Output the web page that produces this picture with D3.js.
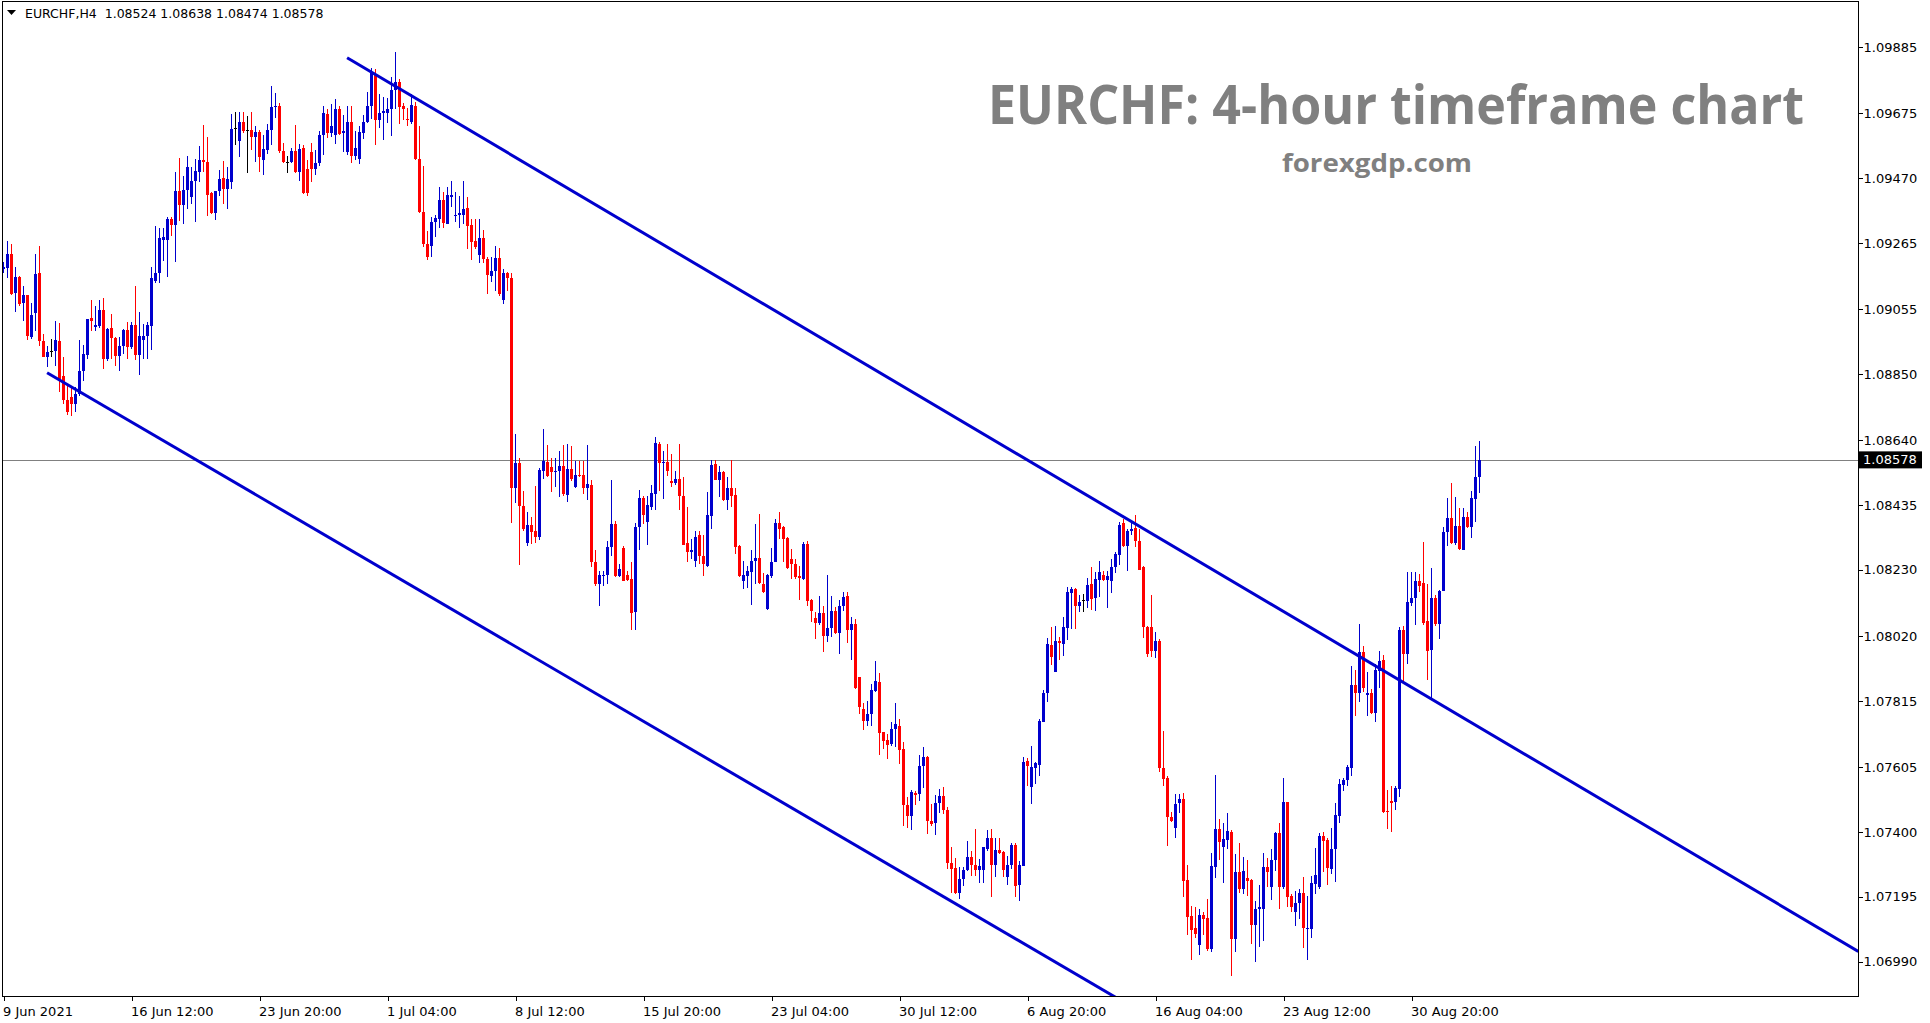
<!DOCTYPE html>
<html><head><meta charset="utf-8">
<script src="https://cdn.jsdelivr.net/npm/d3@7"></script>
<style>html,body{margin:0;padding:0;background:#fff;} svg{display:block}</style>
</head><body>
<svg id="chart" width="1930" height="1023"></svg>
<script>
const symbolInfo = "EURCHF,H4";
const lastOHLC = [1.08524, 1.08638, 1.08474, 1.08578];
const currentPrice = 1.08578;

const opens = [
1.09181,1.09184,1.09230,1.09105,1.09158,1.09074,1.09099,1.08966,1.09042,1.09170,
1.08955,1.08905,1.08924,1.08922,1.08955,1.08842,1.08768,1.08778,1.08755,1.08785,
1.08858,1.08911,1.09026,1.09000,1.09003,1.09054,1.08896,1.08996,1.08964,1.08908,
1.08937,1.08989,1.08934,1.09006,1.08911,1.08959,1.08969,1.09003,1.09145,1.09170,
1.09275,1.09275,1.09342,1.09322,1.09430,1.09386,1.09433,1.09411,1.09462,1.09488,
1.09528,1.09522,1.09422,1.09360,1.09428,1.09469,1.09435,1.09459,1.09629,1.09588,
1.09649,1.09621,1.09621,1.09601,1.09617,1.09528,1.09560,1.09621,1.09694,1.09699,
1.09557,1.09521,1.09520,1.09557,1.09490,1.09566,1.09499,1.09554,1.09499,1.09517,
1.09605,1.09672,1.09614,1.09608,1.09689,1.09612,1.09554,1.09647,1.09539,1.09529,
1.09614,1.09648,1.09699,1.09798,1.09653,1.09675,1.09677,1.09689,1.09748,1.09774,
1.09697,1.09658,1.09648,1.09699,1.09532,1.09362,1.09260,1.09255,1.09330,1.09342,
1.09401,1.09324,1.09411,1.09350,1.09354,1.09354,1.09376,1.09322,1.09271,1.09227,
1.09281,1.09215,1.09161,1.09175,1.09218,1.09084,1.09171,1.09153,1.08488,1.08567,
1.08431,1.08315,1.08373,1.08352,1.08333,1.08543,1.08571,1.08555,1.08539,1.08543,
1.08558,1.08466,1.08549,1.08491,1.08531,1.08531,1.08488,1.08500,1.08256,1.08184,
1.08210,1.08212,1.08302,1.08374,1.08210,1.08298,1.08215,1.08201,1.08096,1.08365,
1.08457,1.08381,1.08430,1.08470,1.08629,1.08568,1.08570,1.08510,1.08504,1.08516,
1.08463,1.08315,1.08285,1.08259,1.08339,1.08275,1.08243,1.08399,1.08566,1.08515,
1.08539,1.08452,1.08490,1.08468,1.08304,1.08194,1.08209,1.08223,1.08259,1.08268,
1.08186,1.08107,1.08210,1.08256,1.08379,1.08365,1.08331,1.08263,1.08247,1.08210,
1.08201,1.08312,1.08133,1.08077,1.08062,1.08094,1.08020,1.08046,1.08098,1.08030,
1.08116,1.08146,1.08038,1.08059,1.07890,1.07788,1.07752,1.07772,1.07846,1.07875,
1.07716,1.07691,1.07677,1.07726,1.07737,1.07663,1.07484,1.07452,1.07524,1.07519,
1.07610,1.07636,1.07436,1.07428,1.07492,1.07513,1.07471,1.07301,1.07285,1.07206,
1.07251,1.07280,1.07322,1.07297,1.07280,1.07280,1.07346,1.07382,1.07294,1.07344,
1.07336,1.07257,1.07294,1.07359,1.07231,1.07291,1.07626,1.07542,1.07602,1.07613,
1.07749,1.07839,1.07993,1.07906,1.08006,1.07995,1.08046,1.08156,1.08169,1.08114,
1.08133,1.08130,1.08185,1.08140,1.08199,1.08212,1.08198,1.08196,1.08238,1.08278,
1.08377,1.08304,1.08354,1.08362,1.08322,1.08238,1.08050,1.08048,1.07974,1.08006,
1.07602,1.07570,1.07448,1.07414,1.07491,1.07505,1.07247,1.07133,1.07095,1.07041,
1.07137,1.07129,1.07030,1.07289,1.07408,1.07352,1.07374,1.07399,1.07061,1.07272,
1.07219,1.07253,1.07249,1.07106,1.07155,1.07155,1.07289,1.07227,1.07312,1.07396,
1.07225,1.07496,1.07198,1.07148,1.07174,1.07208,1.07094,1.07094,1.07235,1.07227,
1.07387,1.07374,1.07284,1.07346,1.07451,1.07549,1.07563,1.07603,1.07864,1.07841,
1.07969,1.07834,1.07839,1.07777,1.07911,1.07945,1.07468,1.07498,1.07495,1.07536,
1.08041,1.07962,1.08126,1.08141,1.08196,1.08189,1.08068,1.07976,1.08141,1.08058,
1.08162,1.08349,1.08394,1.08315,1.08369,1.08293,1.08397,1.08366,1.08453,1.08524
];
const highs = [
1.09203,1.09272,1.09261,1.09188,1.09161,1.09128,1.09101,1.09074,1.09230,1.09256,
1.08975,1.08939,1.08961,1.09019,1.09012,1.08903,1.08813,1.08813,1.08808,1.08959,
1.08943,1.09024,1.09084,1.09066,1.09084,1.09089,1.08996,1.09040,1.08968,1.08966,
1.08992,1.09016,1.09014,1.09127,1.09047,1.09008,1.09014,1.09188,1.09317,1.09311,
1.09311,1.09346,1.09346,1.09490,1.09533,1.09478,1.09541,1.09504,1.09530,1.09573,
1.09639,1.09601,1.09425,1.09430,1.09497,1.09525,1.09504,1.09673,1.09678,1.09680,
1.09678,1.09667,1.09678,1.09636,1.09622,1.09605,1.09641,1.09763,1.09738,1.09707,
1.09580,1.09541,1.09565,1.09639,1.09578,1.09576,1.09526,1.09581,1.09560,1.09620,
1.09699,1.09689,1.09705,1.09721,1.09697,1.09669,1.09699,1.09697,1.09620,1.09636,
1.09669,1.09741,1.09817,1.09814,1.09735,1.09727,1.09723,1.09790,1.09869,1.09784,
1.09709,1.09693,1.09735,1.09711,1.09636,1.09508,1.09303,1.09348,1.09354,1.09441,
1.09427,1.09441,1.09460,1.09427,1.09414,1.09460,1.09409,1.09342,1.09342,1.09342,
1.09306,1.09221,1.09221,1.09254,1.09250,1.09182,1.09172,1.09171,1.08661,1.08585,
1.08478,1.08412,1.08398,1.08494,1.08553,1.08677,1.08624,1.08585,1.08583,1.08607,
1.08624,1.08627,1.08622,1.08575,1.08575,1.08573,1.08624,1.08515,1.08293,1.08227,
1.08226,1.08320,1.08513,1.08386,1.08247,1.08304,1.08227,1.08256,1.08378,1.08483,
1.08465,1.08465,1.08497,1.08650,1.08636,1.08606,1.08629,1.08595,1.08544,1.08627,
1.08525,1.08430,1.08329,1.08354,1.08354,1.08339,1.08476,1.08576,1.08576,1.08560,
1.08544,1.08523,1.08576,1.08488,1.08307,1.08259,1.08243,1.08293,1.08376,1.08407,
1.08220,1.08218,1.08299,1.08391,1.08413,1.08368,1.08335,1.08296,1.08265,1.08243,
1.08318,1.08320,1.08138,1.08096,1.08146,1.08116,1.08214,1.08146,1.08112,1.08133,
1.08161,1.08161,1.08079,1.08073,1.07890,1.07808,1.07814,1.07870,1.07940,1.07903,
1.07716,1.07711,1.07749,1.07808,1.07758,1.07684,1.07511,1.07534,1.07529,1.07645,
1.07668,1.07640,1.07489,1.07518,1.07537,1.07542,1.07478,1.07354,1.07318,1.07289,
1.07289,1.07373,1.07341,1.07408,1.07315,1.07352,1.07406,1.07410,1.07382,1.07382,
1.07339,1.07325,1.07365,1.07365,1.07309,1.07636,1.07634,1.07673,1.07621,1.07758,
1.07850,1.08015,1.08048,1.08053,1.08016,1.08082,1.08177,1.08177,1.08172,1.08151,
1.08154,1.08204,1.08240,1.08222,1.08259,1.08225,1.08227,1.08265,1.08286,1.08380,
1.08391,1.08359,1.08377,1.08405,1.08359,1.08243,1.08052,1.08151,1.08034,1.08011,
1.07721,1.07576,1.07462,1.07521,1.07521,1.07524,1.07295,1.07167,1.07163,1.07157,
1.07146,1.07188,1.07332,1.07580,1.07440,1.07427,1.07459,1.07405,1.07329,1.07365,
1.07321,1.07312,1.07251,1.07181,1.07233,1.07335,1.07318,1.07346,1.07399,1.07427,
1.07572,1.07496,1.07204,1.07212,1.07221,1.07258,1.07198,1.07261,1.07349,1.07396,
1.07400,1.07380,1.07413,1.07493,1.07568,1.07572,1.07612,1.07925,1.07914,1.08057,
1.07990,1.07905,1.07852,1.07932,1.07973,1.07960,1.07532,1.07547,1.07547,1.08049,
1.08052,1.08224,1.08222,1.08222,1.08218,1.08318,1.08185,1.08236,1.08149,1.08165,
1.08366,1.08458,1.08504,1.08461,1.08425,1.08425,1.08414,1.08479,1.08621,1.08638
];
const lows = [
1.09170,1.09154,1.09101,1.09047,1.09066,1.09018,1.08959,1.08961,1.08987,1.08939,
1.08903,1.08872,1.08903,1.08876,1.08792,1.08755,1.08721,1.08718,1.08729,1.08781,
1.08829,1.08896,1.08985,1.08987,1.08996,1.08866,1.08891,1.08898,1.08876,1.08858,
1.08913,1.08896,1.08929,1.08894,1.08848,1.08896,1.08896,1.08926,1.09137,1.09137,
1.09209,1.09158,1.09286,1.09203,1.09335,1.09325,1.09372,1.09388,1.09330,1.09457,
1.09488,1.09351,1.09356,1.09338,1.09414,1.09388,1.09372,1.09435,1.09576,1.09538,
1.09612,1.09485,1.09559,1.09520,1.09490,1.09481,1.09547,1.09576,1.09661,1.09548,
1.09517,1.09485,1.09517,1.09485,1.09460,1.09421,1.09414,1.09457,1.09481,1.09508,
1.09544,1.09596,1.09600,1.09578,1.09605,1.09554,1.09542,1.09517,1.09527,1.09515,
1.09594,1.09644,1.09657,1.09576,1.09627,1.09590,1.09644,1.09602,1.09689,1.09641,
1.09653,1.09636,1.09641,1.09527,1.09360,1.09251,1.09212,1.09221,1.09285,1.09312,
1.09312,1.09324,1.09377,1.09330,1.09312,1.09324,1.09245,1.09212,1.09245,1.09200,
1.09200,1.09104,1.09140,1.09112,1.09096,1.09073,1.09111,1.08377,1.08443,1.08246,
1.08352,1.08305,1.08313,1.08316,1.08325,1.08518,1.08524,1.08476,1.08491,1.08460,
1.08464,1.08446,1.08510,1.08488,1.08524,1.08471,1.08452,1.08240,1.08180,1.08116,
1.08180,1.08184,1.08275,1.08207,1.08207,1.08193,1.08194,1.08041,1.08041,1.08293,
1.08376,1.08307,1.08418,1.08418,1.08478,1.08453,1.08527,1.08493,1.08497,1.08418,
1.08307,1.08254,1.08265,1.08238,1.08249,1.08210,1.08238,1.08358,1.08513,1.08460,
1.08449,1.08418,1.08428,1.08281,1.08207,1.08168,1.08172,1.08117,1.08186,1.08186,
1.08157,1.08103,1.08205,1.08254,1.08329,1.08256,1.08233,1.08201,1.08201,1.08133,
1.08198,1.08114,1.08065,1.08012,1.08056,1.07970,1.08003,1.08017,1.08027,1.07962,
1.08101,1.07999,1.07946,1.07853,1.07775,1.07724,1.07734,1.07737,1.07843,1.07643,
1.07662,1.07630,1.07673,1.07670,1.07614,1.07418,1.07414,1.07406,1.07484,1.07499,
1.07539,1.07394,1.07420,1.07391,1.07460,1.07457,1.07283,1.07206,1.07204,1.07187,
1.07228,1.07278,1.07261,1.07261,1.07240,1.07240,1.07339,1.07195,1.07257,1.07330,
1.07257,1.07231,1.07283,1.07193,1.07183,1.07291,1.07547,1.07489,1.07552,1.07576,
1.07749,1.07813,1.07930,1.07906,1.07946,1.07956,1.08009,1.08043,1.08043,1.08095,
1.08096,1.08109,1.08104,1.08098,1.08145,1.08196,1.08108,1.08156,1.08219,1.08246,
1.08301,1.08227,1.08340,1.08301,1.08230,1.08015,1.07953,1.07953,1.07951,1.07589,
1.07544,1.07355,1.07431,1.07382,1.07459,1.07195,1.07074,1.06995,1.07065,1.07010,
1.07074,1.07024,1.07019,1.07253,1.07312,1.07238,1.07346,1.06945,1.07019,1.07208,
1.07204,1.07198,1.07045,1.06988,1.07035,1.07055,1.07227,1.07186,1.07278,1.07155,
1.07221,1.07161,1.07146,1.07102,1.07126,1.07032,1.06995,1.07063,1.07204,1.07219,
1.07272,1.07233,1.07267,1.07242,1.07429,1.07529,1.07547,1.07578,1.07766,1.07811,
1.07843,1.07766,1.07775,1.07747,1.07855,1.07459,1.07408,1.07400,1.07470,1.07510,
1.07877,1.07932,1.08116,1.08056,1.08161,1.08056,1.07881,1.07821,1.08052,1.08011,
1.08162,1.08305,1.08312,1.08309,1.08293,1.08293,1.08363,1.08331,1.08380,1.08474
];
const closes = [
1.09187,1.09230,1.09103,1.09158,1.09072,1.09099,1.08971,1.09038,1.09166,1.08953,
1.08905,1.08921,1.08924,1.08959,1.08827,1.08766,1.08729,1.08755,1.08785,1.08860,
1.08913,1.09024,1.09019,1.09006,1.09054,1.08896,1.08992,1.08963,1.08908,1.08937,
1.08989,1.08934,1.09006,1.08911,1.08971,1.08971,1.09006,1.09153,1.09170,1.09279,
1.09283,1.09342,1.09322,1.09430,1.09386,1.09433,1.09506,1.09462,1.09494,1.09528,
1.09520,1.09417,1.09360,1.09430,1.09466,1.09435,1.09466,1.09625,1.09629,1.09649,
1.09618,1.09621,1.09601,1.09617,1.09536,1.09562,1.09623,1.09696,1.09699,1.09555,
1.09520,1.09521,1.09557,1.09490,1.09562,1.09423,1.09423,1.09499,1.09517,1.09605,
1.09677,1.09614,1.09636,1.09689,1.09611,1.09620,1.09647,1.09539,1.09564,1.09617,
1.09648,1.09699,1.09806,1.09653,1.09677,1.09683,1.09689,1.09750,1.09774,1.09695,
1.09690,1.09653,1.09702,1.09532,1.09362,1.09261,1.09221,1.09332,1.09344,1.09401,
1.09327,1.09416,1.09418,1.09354,1.09358,1.09372,1.09318,1.09267,1.09251,1.09281,
1.09215,1.09164,1.09176,1.09218,1.09103,1.09171,1.09155,1.08488,1.08567,1.08431,
1.08358,1.08373,1.08349,1.08333,1.08545,1.08573,1.08528,1.08539,1.08543,1.08558,
1.08471,1.08549,1.08516,1.08531,1.08527,1.08488,1.08502,1.08256,1.08184,1.08212,
1.08212,1.08302,1.08374,1.08210,1.08231,1.08196,1.08199,1.08093,1.08367,1.08457,
1.08402,1.08434,1.08473,1.08631,1.08568,1.08571,1.08542,1.08504,1.08516,1.08463,
1.08310,1.08285,1.08293,1.08335,1.08275,1.08247,1.08402,1.08563,1.08515,1.08539,
1.08452,1.08490,1.08463,1.08302,1.08210,1.08212,1.08225,1.08259,1.08268,1.08189,
1.08161,1.08214,1.08256,1.08379,1.08360,1.08327,1.08235,1.08247,1.08207,1.08205,
1.08312,1.08131,1.08098,1.08062,1.08094,1.08020,1.08047,1.08098,1.08031,1.08116,
1.08143,1.08038,1.08057,1.07857,1.07797,1.07752,1.07775,1.07849,1.07877,1.07713,
1.07689,1.07674,1.07726,1.07743,1.07659,1.07484,1.07452,1.07526,1.07518,1.07610,
1.07636,1.07434,1.07426,1.07492,1.07513,1.07470,1.07301,1.07283,1.07206,1.07251,
1.07281,1.07322,1.07297,1.07280,1.07292,1.07352,1.07382,1.07294,1.07344,1.07332,
1.07280,1.07294,1.07359,1.07228,1.07294,1.07623,1.07610,1.07605,1.07619,1.07751,
1.07839,1.07995,1.07953,1.08006,1.07997,1.08050,1.08159,1.08169,1.08114,1.08129,
1.08133,1.08183,1.08138,1.08201,1.08222,1.08199,1.08209,1.08240,1.08280,1.08373,
1.08306,1.08354,1.08359,1.08320,1.08230,1.08050,1.07962,1.07974,1.08006,1.07602,
1.07568,1.07448,1.07434,1.07489,1.07503,1.07244,1.07131,1.07091,1.07077,1.07137,
1.07126,1.07030,1.07291,1.07408,1.07369,1.07377,1.07402,1.07061,1.07272,1.07219,
1.07276,1.07244,1.07106,1.07155,1.07161,1.07289,1.07272,1.07312,1.07396,1.07225,
1.07496,1.07195,1.07164,1.07174,1.07208,1.07095,1.07097,1.07238,1.07263,1.07387,
1.07371,1.07286,1.07346,1.07453,1.07553,1.07564,1.07606,1.07864,1.07841,1.07969,
1.07857,1.07839,1.07777,1.07914,1.07942,1.07464,1.07462,1.07493,1.07538,1.08041,
1.07962,1.08128,1.08141,1.08196,1.08180,1.08062,1.07973,1.08141,1.08058,1.08163,
1.08349,1.08394,1.08315,1.08369,1.08295,1.08397,1.08366,1.08456,1.08524,1.08578
];

const priceTicks = [1.09885,1.09675,1.09470,1.09265,1.09055,1.08850,1.08640,1.08435,1.08230,1.08020,1.07815,1.07605,1.07400,1.07195,1.06990];
const timeTickIndex = [0,32,64,96,128,160,192,224,256,288,320,352];
const timeTickLabels = ["9 Jun 2021","16 Jun 12:00","23 Jun 20:00","1 Jul 04:00","8 Jul 12:00","15 Jul 20:00","23 Jul 04:00","30 Jul 12:00","6 Aug 20:00","16 Aug 04:00","23 Aug 12:00","30 Aug 20:00"];
// channel trendlines: [bar index, price] endpoints
const upperLine = [[85.9, 1.09851],[463.7, 1.07022]];
const lowerLine = [[10.9, 1.08854],[280, 1.06862]];
const titleText = "EURCHF: 4-hour timeframe chart";
const subtitleText = "forexgdp.com";

const BULL = "#0000CD", BEAR = "#FF0000", DOJI = "#000000", LINE = "#0000CD";
const plot = {left: 2.5, top: 1.5, right: 1858.5, bottom: 996.5};

const svg = d3.select("#chart");
svg.append("rect").attr("width",1930).attr("height",1023).attr("fill","#fff");

const x = d3.scaleLinear().domain([0, opens.length - 1]).range([3.5, 3.5 + 4*(opens.length - 1)]);
const y = d3.scaleLinear().domain([1.06990, 1.09885]).range([961.5, 47]);

const defs = svg.append("defs");
defs.append("clipPath").attr("id","plotclip").append("rect")
  .attr("x", 3).attr("y", 2).attr("width", 1855).attr("height", 994);

const g = svg.append("g").attr("clip-path","url(#plotclip)");

// current price line
g.append("line").attr("x1", 3).attr("x2", plot.right).attr("y1", Math.round(y(currentPrice))+0.5).attr("y2", Math.round(y(currentPrice))+0.5)
  .attr("stroke","#808080").attr("stroke-width",1);

const candles = opens.map((o,i)=>({i, o, h: highs[i], l: lows[i], c: closes[i]}));
const col = d => d.c > d.o ? BULL : (d.c < d.o ? BEAR : DOJI);

const cg = g.append("g").attr("shape-rendering","crispEdges");
cg.selectAll("line.wick").data(candles).join("line").attr("class","wick")
  .attr("x1", d=>x(d.i)).attr("x2", d=>x(d.i))
  .attr("y1", d=>y(d.h)).attr("y2", d=>y(d.l))
  .attr("stroke", col).attr("stroke-width",1);
cg.selectAll("rect.body").data(candles).join("rect").attr("class","body")
  .attr("x", d=>x(d.i)-1.5).attr("width", 3)
  .attr("y", d=>Math.min(y(d.o), y(d.c)))
  .attr("height", d=>Math.max(1, Math.abs(y(d.o)-y(d.c))))
  .attr("fill", col);

// trendlines
[upperLine, lowerLine].forEach(L=>{
  g.append("line")
    .attr("x1", x(L[0][0])).attr("y1", y(L[0][1]))
    .attr("x2", x(L[1][0])).attr("y2", y(L[1][1]))
    .attr("stroke", LINE).attr("stroke-width", 3);
});

// frame
svg.append("rect").attr("x",plot.left).attr("y",plot.top)
  .attr("width",plot.right-plot.left).attr("height",plot.bottom-plot.top)
  .attr("fill","none").attr("stroke","#000").attr("stroke-width",1)
  .attr("shape-rendering","crispEdges");

const axisFont = "'DejaVu Sans', Verdana, sans-serif";

// right price axis
const yAxis = d3.axisRight(y).tickValues(priceTicks).tickFormat(d3.format(".5f")).tickSize(4).tickPadding(1);
const ya = svg.append("g").attr("transform", `translate(${plot.right},0)`).call(yAxis);
ya.select(".domain").remove();
ya.selectAll("line").attr("stroke","#000").attr("shape-rendering","crispEdges");
ya.selectAll("text").attr("font-family", axisFont).attr("font-size", 13).attr("fill","#000");

// bottom time axis
const xAxis = d3.axisBottom(x).tickValues(timeTickIndex).tickFormat((d,i)=>timeTickLabels[i]).tickSize(4);
const xa = svg.append("g").attr("transform", `translate(0,${plot.bottom})`).call(xAxis);
xa.select(".domain").remove();
xa.selectAll("line").attr("stroke","#000").attr("shape-rendering","crispEdges");
xa.selectAll("text").attr("font-family", axisFont).attr("font-size", 13).attr("fill","#000")
  .attr("text-anchor","start").attr("x", -1).attr("y", 19).attr("dy", 0);

// current price label box
const cy = y(currentPrice);
svg.append("rect").attr("x", 1859).attr("y", cy - 8.5).attr("width", 63).attr("height", 17).attr("fill","#000");
svg.append("text").attr("x", 1863).attr("y", cy).attr("dominant-baseline","central")
  .attr("font-family", axisFont).attr("font-size", 13).attr("fill","#fff").text(d3.format(".5f")(currentPrice));

// header
svg.append("path").attr("d","M7,10 L16,10 L11.5,15 Z").attr("fill","#000");
svg.append("text").attr("x", 25).attr("y", 18).attr("font-family", axisFont).attr("font-size", 12.5)
  .attr("fill","#000").style("white-space","pre")
  .text(symbolInfo + "  " + lastOHLC.map(d3.format(".5f")).join(" "));

// title
svg.append("text").attr("x", 988).attr("y", 124)
  .attr("font-family","'Open Sans', 'Noto Sans', sans-serif").attr("font-weight",700).attr("font-size",53)
  .attr("fill","#808080").attr("textLength", 816).attr("lengthAdjust","spacingAndGlyphs").text(titleText);
svg.append("text").attr("x", 1282).attr("y", 172)
  .attr("font-family","'Open Sans', 'Noto Sans', sans-serif").attr("font-weight",700).attr("font-size",25)
  .attr("fill","#808080").attr("textLength", 190).attr("lengthAdjust","spacingAndGlyphs").text(subtitleText);
</script>
</body></html>
